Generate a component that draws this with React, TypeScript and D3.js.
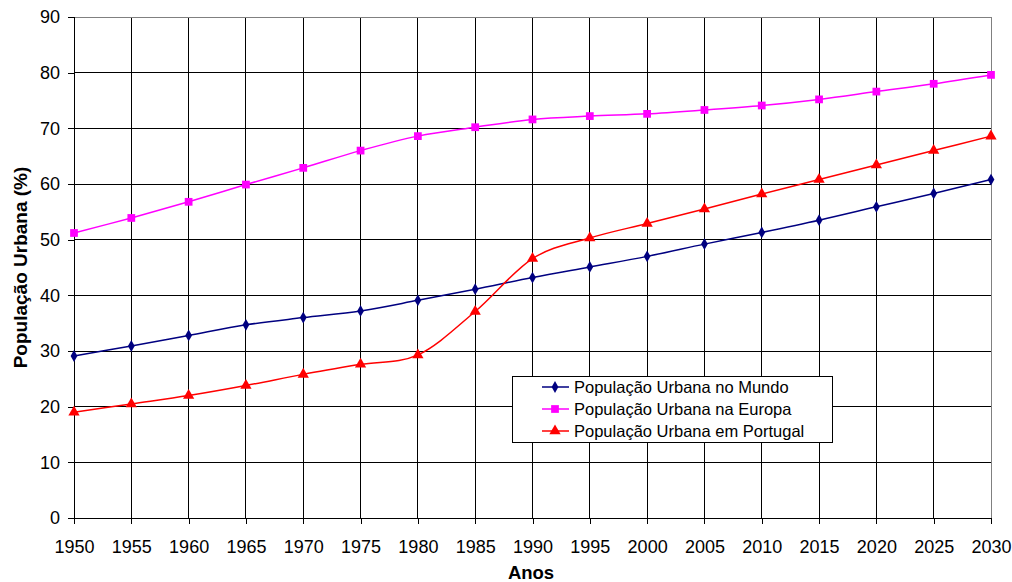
import React from "react";
import * as d3 from "d3";

const years = [1950, 1955, 1960, 1965, 1970, 1975, 1980, 1985, 1990, 1995, 2000, 2005, 2010, 2015, 2020, 2025, 2030];
const mundo = [29.1, 30.9, 32.8, 34.7, 36.0, 37.2, 39.1, 41.1, 43.2, 45.1, 47.0, 49.2, 51.3, 53.5, 55.9, 58.3, 60.8];
const europa = [51.2, 53.9, 56.8, 59.9, 62.9, 66.0, 68.6, 70.2, 71.6, 72.2, 72.6, 73.3, 74.1, 75.2, 76.6, 78.0, 79.6];
const portugal = [19.0, 20.5, 22.0, 23.8, 25.8, 27.6, 29.3, 37.1, 46.6, 50.3, 52.9, 55.5, 58.2, 60.8, 63.4, 66.0, 68.6];
const yTicks = [0, 10, 20, 30, 40, 50, 60, 70, 80, 90];
const seriesNames = ["População Urbana no Mundo", "População Urbana na Europa", "População Urbana em Portugal"];

const W = 1012;
const H = 582;
const M = { left: 74, right: 991, top: 17, bottom: 518 };
const FONT = "Arial, 'Liberation Sans', sans-serif";

const series = [
  { name: seriesNames[0], values: mundo, color: "#000080", marker: d3.symbolDiamond, size: 40 },
  { name: seriesNames[1], values: europa, color: "#FF00FF", marker: d3.symbolSquare, size: 60 },
  { name: seriesNames[2], values: portugal, color: "#FF0000", marker: d3.symbolTriangle, size: 55 },
];

export default function App() {
  const svgRef = React.useRef<SVGSVGElement>(null);

  React.useEffect(() => {
    const svg = d3.select(svgRef.current);
    svg.selectAll("*").remove();

    const x = d3.scaleLinear().domain([1950, 2030]).range([M.left, M.right]);
    const y = d3.scaleLinear().domain([0, 90]).range([M.bottom, M.top]);

    // grid
    const grid = svg.append("g").attr("shape-rendering", "crispEdges");
    grid.selectAll(".hg")
      .data(yTicks.slice(1, -1))
      .join("line")
      .attr("x1", M.left).attr("x2", M.right)
      .attr("y1", d => y(d)).attr("y2", d => y(d))
      .attr("stroke", "#000");
    grid.selectAll(".vg")
      .data(years.slice(1, -1))
      .join("line")
      .attr("y1", M.top).attr("y2", M.bottom)
      .attr("x1", d => x(d)).attr("x2", d => x(d))
      .attr("stroke", "#000");
    // plot border top/right gray
    grid.append("path")
      .attr("d", `M${M.left},${M.top}H${M.right}V${M.bottom}`)
      .attr("fill", "none")
      .attr("stroke", "#808080");

    // axes
    const yAxis = d3.axisLeft(y).tickValues(yTicks).tickSize(6).tickPadding(8);
    svg.append("g")
      .attr("transform", `translate(${M.left},0)`)
      .call(yAxis)
      .call(g => g.selectAll("text").attr("font-size", 18).attr("font-family", FONT).attr("fill", "#000"));

    const xAxis = d3.axisBottom(x).tickValues(years).tickFormat(d3.format("d")).tickSize(6).tickPadding(16);
    svg.append("g")
      .attr("transform", `translate(0,${M.bottom})`)
      .call(xAxis)
      .call(g => g.selectAll("text").attr("font-size", 18).attr("font-family", FONT).attr("fill", "#000"));

    svg.selectAll(".tick line, .domain").attr("shape-rendering", "crispEdges");

    // lines
    const line = d3.line<number>()
      .x((_, i) => x(years[i]))
      .y(v => y(v))
      .curve(d3.curveCatmullRom.alpha(0));

    series.forEach(s => {
      svg.append("path")
        .datum(s.values)
        .attr("d", line)
        .attr("fill", "none")
        .attr("stroke", s.color)
        .attr("stroke-width", 1.5);
    });
    series.forEach(s => {
      svg.append("g")
        .selectAll("path")
        .data(s.values)
        .join("path")
        .attr("transform", (v, i) => `translate(${x(years[i])},${y(v)})`)
        .attr("d", d3.symbol().type(s.marker).size(s.size)())
        .attr("fill", s.color);
    });

    // legend
    const lg = svg.append("g").attr("transform", "translate(512,376)");
    lg.append("rect")
      .attr("width", 320).attr("height", 66)
      .attr("fill", "#fff").attr("stroke", "#000")
      .attr("shape-rendering", "crispEdges");
    series.forEach((s, i) => {
      const yy = 11 + i * 22;
      lg.append("line")
        .attr("x1", 30).attr("x2", 57).attr("y1", yy).attr("y2", yy)
        .attr("stroke", s.color).attr("stroke-width", 1.5);
      lg.append("path")
        .attr("transform", `translate(43,${yy})`)
        .attr("d", d3.symbol().type(s.marker).size(s.size)())
        .attr("fill", s.color);
      lg.append("text")
        .attr("x", 62).attr("y", yy).attr("dy", "0.35em")
        .attr("font-size", 16.5).attr("font-family", FONT)
        .text(s.name);
    });

    // titles
    svg.append("text")
      .attr("x", 531).attr("y", 579)
      .attr("text-anchor", "middle")
      .attr("font-size", 18.5).attr("font-weight", "bold").attr("font-family", FONT)
      .text("Anos");
    svg.append("text")
      .attr("transform", `translate(27,${(M.top + M.bottom) / 2}) rotate(-90)`)
      .attr("text-anchor", "middle")
      .attr("font-size", 19).attr("font-weight", "bold").attr("font-family", FONT)
      .text("População Urbana (%)");
  }, []);

  return (
    <svg
      ref={svgRef}
      width={W}
      height={H}
      style={{ position: "absolute", left: 0, top: 0, background: "#fff" }}
    />
  );
}
